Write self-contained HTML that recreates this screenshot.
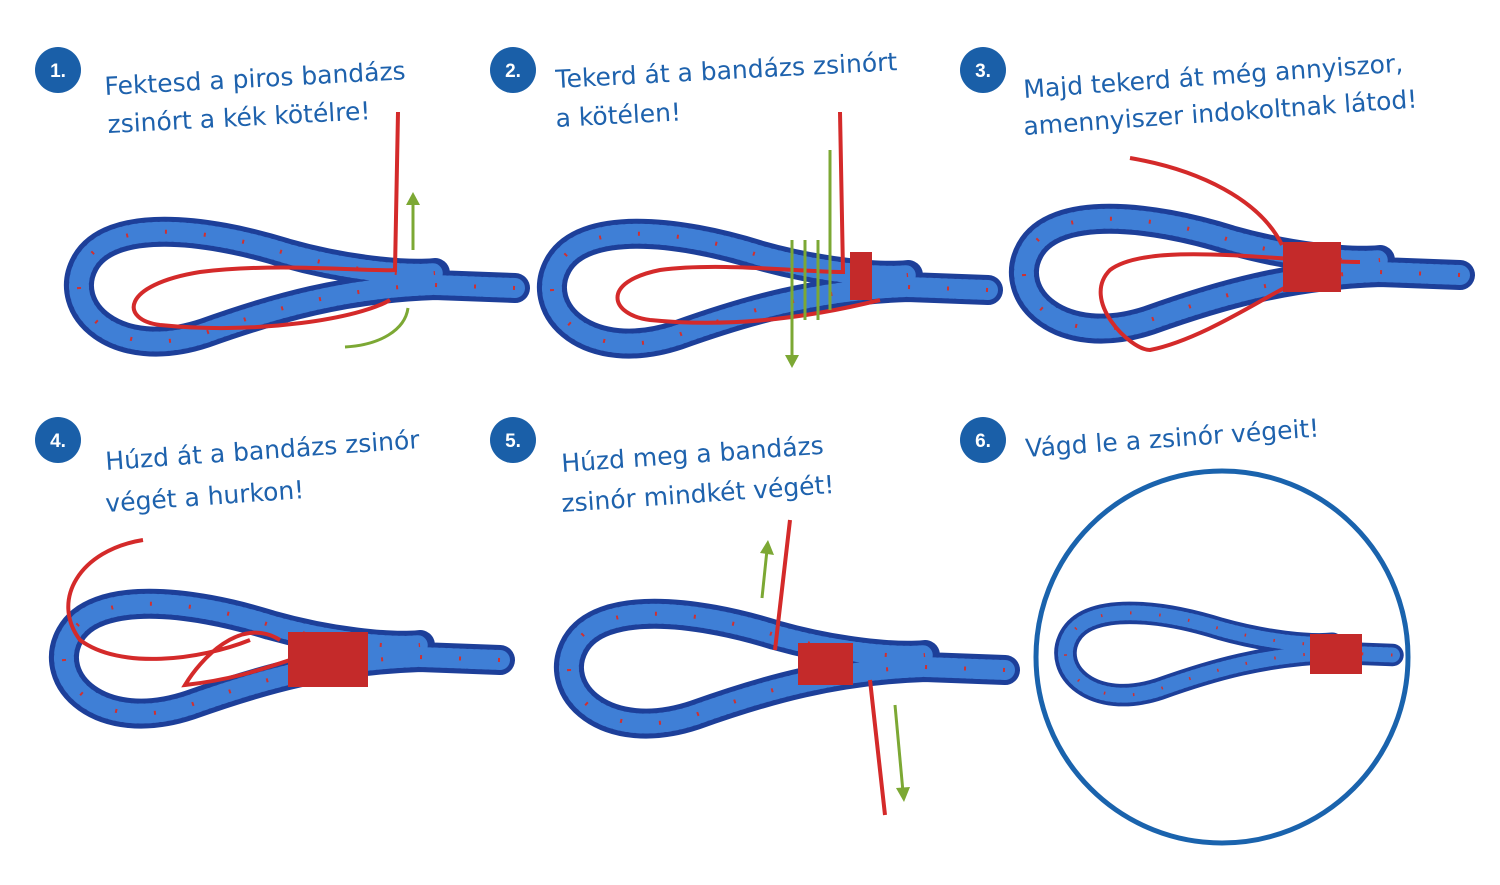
<!DOCTYPE html>
<html><head><meta charset="utf-8"><style>
html,body{margin:0;padding:0;background:#fff;}
svg{display:block;}
text{font-family:"DejaVu Sans","Liberation Sans",sans-serif;fill:#1e62ad;}
.n{fill:#fff;font-weight:bold;font-size:19px;font-family:"Liberation Sans",sans-serif;}
.t{font-size:25px;}
</style></head><body>
<svg width="1500" height="885" viewBox="0 0 1500 885" xmlns="http://www.w3.org/2000/svg">
<defs>
<g id="rope">
  <path d="M70,0 L-10,-3 C-100,0 -170,20 -240,45 C-330,75 -385,20 -360,-25 C-335,-70 -240,-60 -160,-35 C-100,-18 -40,-12 -10,-15" fill="none" stroke="#1d3f99" stroke-width="30" stroke-linecap="round"/>
  <path d="M70,0 L-10,-3 C-100,0 -170,20 -240,45 C-330,75 -385,20 -360,-25 C-335,-70 -240,-60 -160,-35 C-100,-18 -40,-12 -10,-15" fill="none" stroke="#3f7fd6" stroke-width="20" stroke-dasharray="3 4" stroke-linecap="round"/>
  <path d="M70,0 L-10,-3 C-100,0 -170,20 -240,45 C-330,75 -385,20 -360,-25 C-335,-70 -240,-60 -160,-35 C-100,-18 -40,-12 -10,-15" fill="none" stroke="#d03030" stroke-width="4" stroke-dasharray="2 37"/>
</g>
</defs>
<rect width="1500" height="885" fill="#fff"/>

<g>
<circle cx="58" cy="70" r="23" fill="#1a5fa8"/><text class="n" x="58" y="77" text-anchor="middle">1.</text>
<circle cx="513" cy="70" r="23" fill="#1a5fa8"/><text class="n" x="513" y="77" text-anchor="middle">2.</text>
<circle cx="983" cy="70" r="23" fill="#1a5fa8"/><text class="n" x="983" y="77" text-anchor="middle">3.</text>
<circle cx="58" cy="440" r="23" fill="#1a5fa8"/><text class="n" x="58" y="447" text-anchor="middle">4.</text>
<circle cx="513" cy="440" r="23" fill="#1a5fa8"/><text class="n" x="513" y="447" text-anchor="middle">5.</text>
<circle cx="983" cy="440" r="23" fill="#1a5fa8"/><text class="n" x="983" y="447" text-anchor="middle">6.</text>
</g>

<text class="t" x="105" y="95" transform="rotate(-3 105 95)">Fektesd a piros bandázs</text>
<text class="t" x="108" y="133" transform="rotate(-3 108 133)">zsinórt a kék kötélre!</text>
<text class="t" x="556" y="88" transform="rotate(-3 556 88)">Tekerd át a bandázs zsinórt</text>
<text class="t" x="556" y="127" transform="rotate(-3 556 127)">a kötélen!</text>
<text class="t" x="1024" y="98" transform="rotate(-4 1024 98)">Majd tekerd át még annyiszor,</text>
<text class="t" x="1024" y="135" transform="rotate(-4 1024 135)">amennyiszer indokoltnak látod!</text>
<text class="t" x="106" y="470" transform="rotate(-4 106 470)">Húzd át a bandázs zsinór</text>
<text class="t" x="106" y="512" transform="rotate(-4 106 512)">végét a hurkon!</text>
<text class="t" x="562" y="472" transform="rotate(-4 562 472)">Húzd meg a bandázs</text>
<text class="t" x="562" y="512" transform="rotate(-4 562 512)">zsinór mindkét végét!</text>
<text class="t" x="1026" y="457" transform="rotate(-4 1026 457)">Vágd le a zsinór végeit!</text>

<use href="#rope" x="445" y="288"/>
<path d="M398,112 L395,270 C370,272 280,262 200,272 C120,285 120,320 160,325 C260,335 360,318 390,300" fill="none" stroke="#d42a2a" stroke-width="4"/>
<path d="M413,250 L413,200" stroke="#7ca834" stroke-width="3"/><path d="M406,205 L413,192 L420,205Z" fill="#7ca834"/>
<path d="M345,347 C380,345 405,330 408,308" fill="none" stroke="#7ca834" stroke-width="3"/>

<use href="#rope" x="918" y="290"/>
<path d="M840,112 L843,272 C800,272 720,262 660,270 C600,282 610,315 650,320 C750,330 840,310 880,300" fill="none" stroke="#d42a2a" stroke-width="4"/>
<rect x="850" y="252" width="22" height="48" fill="#c42a2a"/>
<path d="M792,240 L792,360 M805,240 L805,320 M818,240 L818,320 M830,150 L830,310" stroke="#7ca834" stroke-width="3" fill="none"/>
<path d="M785,355 L792,368 L799,355Z" fill="#7ca834"/>

<use href="#rope" x="1390" y="275"/>
<path d="M1130,158 C1200,170 1260,200 1282,245 M1360,262 C1280,262 1150,240 1110,270 C1080,300 1130,350 1150,350 C1200,340 1260,300 1290,285" fill="none" stroke="#d42a2a" stroke-width="4"/>
<rect x="1283" y="242" width="58" height="50" fill="#c42a2a"/>

<use href="#rope" x="430" y="660"/>
<path d="M143,540 C80,550 50,600 80,640 C120,670 200,660 250,640 M280,640 C240,615 200,660 185,685 C230,680 260,670 290,660" fill="none" stroke="#d42a2a" stroke-width="4"/>
<rect x="288" y="632" width="80" height="55" fill="#c42a2a"/>

<use href="#rope" x="935" y="670"/>
<path d="M790,520 L775,650 M870,680 L885,815" fill="none" stroke="#d42a2a" stroke-width="4"/>
<rect x="798" y="643" width="55" height="42" fill="#c42a2a"/>
<path d="M762,598 L767,550" stroke="#7ca834" stroke-width="3"/><path d="M760,553 L768,540 L774,555Z" fill="#7ca834"/>
<path d="M895,705 L903,792" stroke="#7ca834" stroke-width="3"/><path d="M896,788 L904,802 L910,787Z" fill="#7ca834"/>

<circle cx="1222" cy="657" r="186" fill="none" stroke="#1a63ad" stroke-width="5"/>
<g transform="translate(1340,655) scale(0.75)"><use href="#rope"/></g>
<rect x="1310" y="634" width="52" height="40" fill="#c42a2a"/>
</svg>
</body></html>
